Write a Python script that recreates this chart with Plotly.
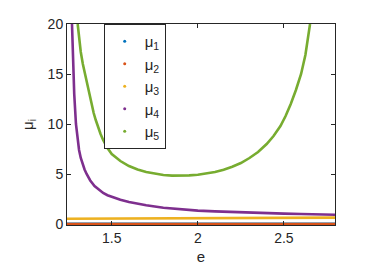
import plotly.graph_objects as go

# data
e_flat = [1.24, 1.5, 2.0, 2.5, 2.8]
mu1 = [0.02, 0.02, 0.02, 0.02, 0.02]
mu2 = [0.0, 0.0, 0.0, 0.0, 0.0]
mu3 = [0.52, 0.55, 0.58, 0.62, 0.64]

e4 = [1.269, 1.275, 1.282, 1.292, 1.30, 1.31, 1.32, 1.33, 1.342, 1.354, 1.375, 1.40,
      1.425, 1.45, 1.475, 1.5, 1.55, 1.6, 1.65, 1.7, 1.8, 1.9, 2.0, 2.1, 2.2, 2.3,
      2.4, 2.5, 2.6, 2.7, 2.8]
mu4 = [20, 16, 13, 10, 8.6, 7.4, 6.6, 6.0, 5.45, 5.0, 4.35, 3.8, 3.4, 3.1, 2.88,
       2.7, 2.42, 2.2, 2.02, 1.87, 1.63, 1.46, 1.34, 1.26, 1.19, 1.14, 1.09, 1.04,
       1.0, 0.96, 0.92]

e5 = [1.302, 1.31, 1.32, 1.332, 1.345, 1.357, 1.37, 1.382, 1.395, 1.407, 1.42, 1.435,
      1.45, 1.475, 1.5, 1.55, 1.6, 1.65, 1.7, 1.75, 1.8, 1.85, 1.9, 1.95, 2.0, 2.05,
      2.1, 2.15, 2.2, 2.25, 2.3, 2.35, 2.4, 2.44, 2.48, 2.51, 2.54, 2.57, 2.6, 2.625,
      2.652]
mu5 = [20, 18.6, 17.2, 16.0, 15.0, 13.9, 12.9, 12.0, 11.1, 10.4, 9.7, 9.0, 8.4, 7.6,
       7.0, 6.3, 5.8, 5.45, 5.2, 5.02, 4.9, 4.84, 4.83, 4.86, 4.93, 5.04, 5.2, 5.42,
       5.72, 6.1, 6.6, 7.2, 8.0, 8.8, 9.8, 10.8, 12.0, 13.4, 15.0, 16.9, 20]

names = ["μ<sub>1</sub>", "μ<sub>2</sub>", "μ<sub>3</sub>", "μ<sub>4</sub>", "μ<sub>5</sub>"]
colors = ["#0072BD", "#D95319", "#EDB120", "#7E2F8E", "#77AC30"]
xs = [e_flat, e_flat, e_flat, e4, e5]
ys = [mu1, mu2, mu3, mu4, mu5]

fig = go.Figure()
for x, y, c in zip(xs, ys, colors):
    fig.add_trace(go.Scatter(x=x, y=y, mode="lines", line=dict(color=c, width=2.6),
                             showlegend=False, hoverinfo="skip"))
for i, (n, c) in enumerate(zip(names, colors)):
    fig.add_trace(go.Scatter(x=[None], y=[None], mode="markers", name=n,
                             legendgroup=f"g{i}", marker=dict(color=c, size=3)))

axis_common = dict(showline=True, linecolor="#262626", linewidth=1, mirror="ticks",
                   ticks="inside", ticklen=4, tickcolor="#262626", showgrid=False,
                   zeroline=False, automargin=False,
                   tickfont=dict(size=14, color="#262626"))
fig.update_layout(
    width=361, height=270,
    margin=dict(l=59, r=34, t=16, b=53),
    plot_bgcolor="white", paper_bgcolor="white",
    font=dict(family="Liberation Sans, Arial, sans-serif", color="#262626"),
    xaxis=dict(range=[1.24, 2.797], tickvals=[1.5, 2, 2.5], ticktext=["1.5", "2", "2.5"],
               title=dict(text="e", font=dict(size=15), standoff=6), **axis_common),
    yaxis=dict(range=[-0.1, 20], tickvals=[0, 5, 10, 15, 20],
               title=dict(text="μ<sub>i</sub>", font=dict(size=15), standoff=10), **axis_common),
    legend=dict(x=0.137, y=1.0, xanchor="left", yanchor="top",
                bordercolor="#262626", borderwidth=1, bgcolor="white",
                font=dict(size=15, color="#262626"), itemwidth=30, tracegroupgap=0),
)
fig.write_html("out.html")
